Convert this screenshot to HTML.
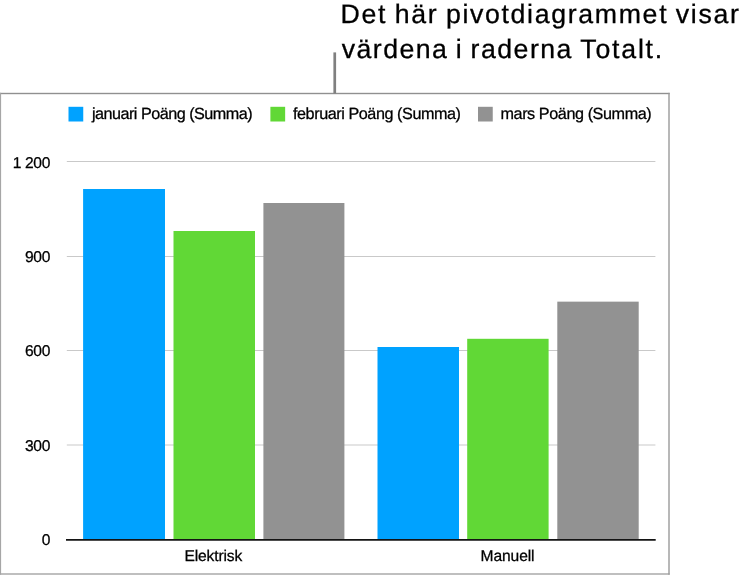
<!DOCTYPE html>
<html lang="sv"><head><meta charset="utf-8"><title>Pivotdiagram</title>
<style>
html,body{margin:0;padding:0;background:#fff;}
body{width:748px;height:577px;position:relative;overflow:hidden;font-family:"Liberation Sans",sans-serif;color:#000;text-rendering:geometricPrecision;}
.abs{position:absolute;}
svg{position:absolute;left:0;top:0;}
.callout{font-size:26.7px;line-height:34.1px;white-space:nowrap;color:#000;-webkit-text-stroke:0.3px #000;}
.lg,.yl,.xl{-webkit-text-stroke:0.28px #000;}
.lg{top:105.7px;font-size:16.2px;line-height:17px;white-space:nowrap;}
.yl{left:0;width:50px;text-align:right;font-size:15.6px;line-height:17px;white-space:nowrap;letter-spacing:-0.33px;}
.xl{top:547.5px;width:120px;text-align:center;font-size:15.6px;line-height:17px;letter-spacing:-0.2px;}
</style></head><body>
<svg width="748" height="577" viewBox="0 0 748 577">
  <g fill="#909090">
    <rect x="0" y="92.8" width="669.7" height="1.4"/>
    <rect x="0" y="573.3" width="669.7" height="1.4" fill="#a4a4a4"/>
    <rect x="668.3" y="92.8" width="1.4" height="481.9" fill="#9a9a9a"/>
    <rect x="0" y="92.8" width="1.1" height="481.9" fill="#a6a6a6"/>
  </g>
  <rect x="333.4" y="52.4" width="2.7" height="41.1" fill="#808080"/>
  <g fill="#c9c9c9">
    <rect x="66.8" y="161" width="588.6" height="1"/>
    <rect x="66.8" y="256" width="588.6" height="1"/>
    <rect x="66.8" y="350" width="588.6" height="1"/>
    <rect x="66.8" y="444.5" width="588.6" height="1"/>
  </g>
  <g fill="#00a2ff">
    <rect x="83.1" y="189" width="81.9" height="351"/>
    <rect x="377.5" y="347" width="81.5" height="193"/>
  </g>
  <g fill="#61d836">
    <rect x="173.5" y="231" width="81.5" height="309"/>
    <rect x="467.2" y="338.8" width="81.4" height="201.2"/>
  </g>
  <g fill="#929292">
    <rect x="263.4" y="203" width="81" height="337"/>
    <rect x="557.3" y="301.65" width="81.4" height="238.35"/>
  </g>
  <rect x="66" y="539" width="589.7" height="1.75" fill="#141414"/>
  <rect x="68.5" y="106.8" width="14.75" height="14.7" fill="#00a2ff"/>
  <rect x="270.4" y="106.8" width="14.75" height="14.7" fill="#61d836"/>
  <rect x="478" y="106.8" width="14.75" height="14.7" fill="#929292"/>
</svg>
<div class="abs callout" style="left:340.6px;top:-2.56px;letter-spacing:1.67px;word-spacing:-1.5px">Det här pivotdiagrammet visar</div>
<div class="abs callout" style="left:341.7px;top:31.54px;letter-spacing:1.47px;word-spacing:-1.5px">värdena i raderna <span style="letter-spacing:1.8px">Totalt.</span></div>

<div class="abs lg" style="left:91.9px;letter-spacing:-0.51px">januari Poäng (Summa)</div>
<div class="abs lg" style="left:293px;letter-spacing:-0.44px">februari Poäng (Summa)</div>
<div class="abs lg" style="left:500.5px;letter-spacing:-0.42px">mars Poäng (Summa)</div>

<div class="abs yl" style="top:155.4px">1 200</div>
<div class="abs yl" style="top:249.1px">900</div>
<div class="abs yl" style="top:343.1px">600</div>
<div class="abs yl" style="top:438.3px">300</div>
<div class="abs yl" style="top:532.3px">0</div>

<div class="abs xl" style="left:153.3px;letter-spacing:-0.12px">Elektrisk</div>
<div class="abs xl" style="left:447.5px;letter-spacing:-0.12px">Manuell</div>
</body></html>
